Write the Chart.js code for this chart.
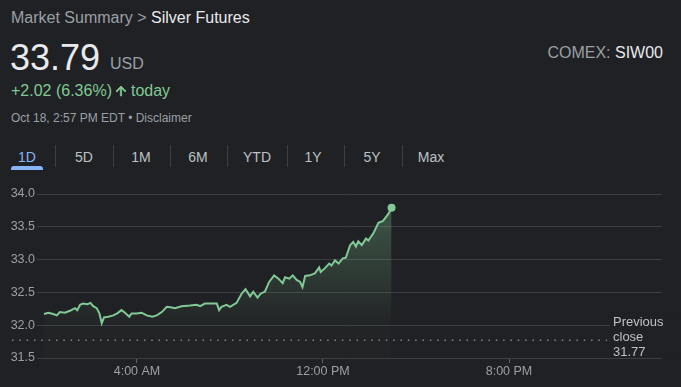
<!DOCTYPE html>
<html>
<head>
<meta charset="utf-8">
<title>Silver Futures</title>
<script src="https://cdn.jsdelivr.net/npm/chart.js@4.4.0/dist/chart.umd.min.js"></script>
<style>
  html, body { margin: 0; padding: 0; }
  body {
    width: 681px; height: 387px; overflow: hidden; position: relative;
    background: #202124; font-family: Arial, 'Liberation Sans', sans-serif;
  }
  .t { position: absolute; white-space: nowrap; }
  .crumb { left: 11px; top: 9.5px; font-size: 16px; line-height: 16px; color: #9aa0a6; }
  .crumb b { font-weight: normal; color: #e8eaed; }
  .price { left: 10px; top: 39.5px; font-size: 36px; line-height: 36px; color: #e8eaed; }
  .cur { left: 110px; top: 56px; font-size: 16px; line-height: 16px; color: #9aa0a6; }
  .chg { left: 11px; top: 83px; font-size: 16px; line-height: 16px; color: #81c995; }
  .chg svg { vertical-align: -1px; margin: 0 5px 0 4px; }
  .stamp { left: 11px; top: 111.5px; font-size: 12px; line-height: 12px; color: #9aa0a6; }
  .exch { right: 18px; top: 45px; font-size: 16px; line-height: 16px; color: #9aa0a6; }
  .exch b { font-weight: normal; color: #e8eaed; }
  .tab { position: absolute; top: 150px; font-size: 14px; line-height: 14px; color: #bdc1c6; transform: translateX(-50%); }
  .tab.on { color: #8ab4f8; }
  .sep { position: absolute; top: 145px; width: 1px; height: 22px; background: #3c4043; }
  .bar { position: absolute; left: 11px; top: 166px; width: 32px; height: 4px; background: #8ab4f8; border-radius: 3px 3px 0 0; }
  #chart { position: absolute; left: 0; top: 180px; }
</style>
</head>
<body>
<div class="t crumb">Market Summary &gt; <b>Silver Futures</b></div>
<div class="t price">33.79</div>
<div class="t cur">USD</div>
<div class="t chg">+2.02 (6.36%)<svg width="10" height="12" viewBox="4 4 16 16"><path fill="#81c995" stroke="#81c995" stroke-width="1.2" d="M4 12l1.41 1.41L11 7.83V20h2V7.83l5.58 5.59L20 12l-8-8-8 8z"/></svg>today</div>
<div class="t stamp">Oct 18, 2:57 PM EDT • Disclaimer</div>
<div class="t exch">COMEX: <b>SIW00</b></div>
<div id="tabs"></div>
<canvas id="chart" width="681" height="207"></canvas>
<script>
// valores
const horas = ['00:00','00:11','00:24','00:33','00:41','00:54','01:07','01:20','01:26','01:33',
  '01:41','01:52','02:00','02:07','02:16','02:23','02:29','02:35','02:46','02:59',
  '03:09','03:20','03:29','03:40','03:46','03:59','04:12','04:25','04:40','04:51',
  '05:04','05:17','05:30','05:38','05:55','06:17','06:34','06:43','06:55','07:13',
  '07:26','07:32','07:38','07:51','08:00','08:17','08:30','08:40','08:52','09:00',
  '09:11','09:19','09:30','09:41','09:54','10:05','10:16','10:22','10:33','10:42',
  '10:52','11:01','11:07','11:14','11:26','11:39','11:50','11:54','12:05','12:16',
  '12:22','12:31','12:40','12:51','12:59','13:10','13:18','13:25','13:31','13:40',
  '13:51','13:57','14:10','14:23','14:35','14:49','14:57'];
const precios = [32.17,32.19,32.17,32.15,32.20,32.19,32.22,32.26,32.23,32.31,
  32.33,32.32,32.34,32.29,32.26,32.18,32.03,32.12,32.13,32.15,
  32.18,32.23,32.19,32.13,32.18,32.18,32.19,32.15,32.13,32.15,
  32.20,32.28,32.27,32.26,32.29,32.30,32.31,32.29,32.33,32.33,
  32.33,32.23,32.28,32.31,32.28,32.34,32.48,32.55,32.44,32.51,
  32.42,32.48,32.51,32.66,32.76,32.71,32.64,32.73,32.71,32.76,
  32.69,32.66,32.58,32.75,32.76,32.79,32.88,32.81,32.87,32.94,
  32.91,32.99,32.94,33.02,33.03,33.22,33.27,33.20,33.28,33.22,
  33.32,33.29,33.40,33.56,33.59,33.70,33.79];
const cierreAnterior = 31.77;
const ticksY = [31.5, 32.0, 32.5, 33.0, 33.5, 34.0];
const ticksX = [4, 12, 20];
const etiquetasX = ['4:00 AM', '12:00 PM', '8:00 PM'];
const pestanas = ['1D', '5D', '1M', '6M', 'YTD', '1Y', '5Y', 'Max'];

const FONDO = '#202124';
const VERDE = '#81c995';

// pestañas de rango
const centros = [27, 84, 141, 198, 257, 313, 372, 431];
const separadores = [55, 113, 170, 227, 287, 344, 402];
const tabs = document.getElementById('tabs');
tabs.innerHTML = pestanas.map((p, i) =>
  `<div class="tab${i === 0 ? ' on' : ''}" style="left:${centros[i]}px">${p}</div>`).join('') +
  separadores.map(x => `<div class="sep" style="left:${x}px"></div>`).join('') +
  '<div class="bar"></div>';

const aHoras = (h) => {
  const [hh, mm] = h.split(':').map(Number);
  return hh + mm / 60;
};
const puntos = horas.map((h, i) => ({ x: aHoras(h), y: precios[i] }));

const cierrePlugin = {
  id: 'cierreAnterior',
  afterDatasetsDraw(chart) {
    const { ctx, scales: { y } } = chart;
    const py = y.getPixelForValue(cierreAnterior);
    ctx.save();
    ctx.strokeStyle = '#80868b';
    ctx.lineWidth = 1.5;
    ctx.setLineDash([1.5, 5.83]);
    ctx.beginPath();
    ctx.moveTo(12, py);
    ctx.lineTo(607, py);
    ctx.stroke();
    ctx.setLineDash([]);
    ctx.fillStyle = FONDO;
    ctx.fillRect(610, py - 28, 71, 44);
    ctx.fillStyle = '#bdc1c6';
    ctx.font = "13px Arial, 'Liberation Sans', sans-serif";
    ctx.textBaseline = 'alphabetic';
    ctx.fillText('Previous', 613, py - 14.5);
    ctx.fillText('close', 613, py + 0.5);
    ctx.fillText(cierreAnterior.toFixed(2), 613, py + 15.5);
    ctx.restore();
  }
};

Chart.defaults.font.family = "Arial, 'Liberation Sans', sans-serif";

new Chart(document.getElementById('chart'), {
  type: 'line',
  data: {
    datasets: [{
      data: puntos,
      borderColor: VERDE,
      borderWidth: 2,
      tension: 0,
      fill: 'start',
      backgroundColor: (c) => {
        const area = c.chart.chartArea;
        if (!area) return 'rgba(129,201,149,0.2)';
        const yS = c.chart.scales.y;
        const g = c.chart.ctx.createLinearGradient(0, yS.getPixelForValue(33.8), 0, yS.getPixelForValue(32.0));
        g.addColorStop(0, 'rgba(129,201,149,0.32)');
        g.addColorStop(1, 'rgba(129,201,149,0.02)');
        return g;
      },
      pointRadius: (c) => c.dataIndex === puntos.length - 1 ? 4 : 0,
      pointBackgroundColor: VERDE,
      pointBorderWidth: 0,
      pointHoverRadius: 0
    }]
  },
  options: {
    responsive: false,
    animation: false,
    layout: { padding: { top: 14, right: 19, left: 0, bottom: 0 } },
    plugins: { legend: { display: false }, tooltip: { enabled: false } },
    scales: {
      x: {
        type: 'linear',
        min: -0.3,
        max: 26.58,
        afterFit: (s) => { s.height = 29; },
        afterBuildTicks: (s) => { s.ticks = ticksX.map(v => ({ value: v })); },
        border: { display: false },
        grid: { drawOnChartArea: false, drawTicks: true, tickLength: 5, color: '#5f6368' },
        ticks: {
          padding: 1,
          color: '#9aa0a6',
          font: { size: 12.5 },
          maxRotation: 0,
          callback: (v) => etiquetasX[ticksX.indexOf(v)]
        }
      },
      y: {
        min: 31.5,
        max: 34.0,
        afterFit: (s) => { s.width = 37; },
        afterBuildTicks: (s) => { s.ticks = ticksY.map(v => ({ value: v })); },
        border: { display: false },
        grid: { color: '#3c4043', drawTicks: false, lineWidth: 1 },
        ticks: {
          padding: 2,
          color: '#9aa0a6',
          font: { size: 12.5 },
          callback: (v) => v.toFixed(1)
        }
      }
    }
  },
  plugins: [cierrePlugin]
});
</script>
</body>
</html>
